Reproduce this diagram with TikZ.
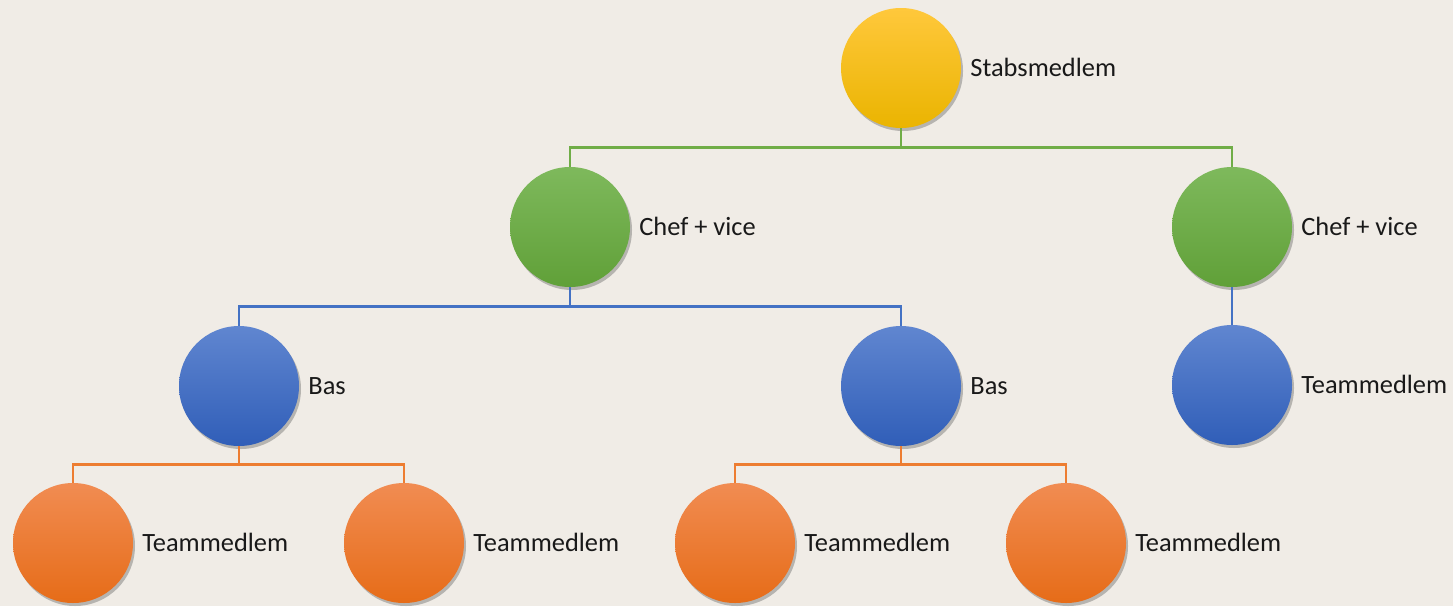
\documentclass[tikz,border=0pt]{standalone}
\usepackage{fontspec}
\setmainfont{Carlito}
\usetikzlibrary{shadows}
\definecolor{bg}{HTML}{F0ECE6}
\definecolor{lnGreen}{HTML}{70AD47}
\definecolor{lnBlue}{HTML}{4472C4}
\definecolor{lnOrange}{HTML}{ED7D31}
\tikzset{
  ball/.style={circle, minimum size=120pt, inner sep=0pt,
    drop shadow={shadow xshift=2pt, shadow yshift=-3pt, opacity=0.35, fill=black!70}},
  yball/.style={ball, top color={rgb,255:red,255;green,200;blue,60}, middle color={rgb,255:red,255;green,196;blue,0}, bottom color={rgb,255:red,234;green,180;blue,0}},
  gball/.style={ball, top color={rgb,255:red,126;green,185;blue,92}, middle color={rgb,255:red,110;green,175;blue,70}, bottom color={rgb,255:red,96;green,160;blue,56}},
  bball/.style={ball, top color={rgb,255:red,96;green,134;blue,208}, middle color={rgb,255:red,70;green,114;blue,198}, bottom color={rgb,255:red,48;green,94;blue,184}},
  oball/.style={ball, top color={rgb,255:red,241;green,140;blue,82}, middle color={rgb,255:red,243;green,127;blue,46}, bottom color={rgb,255:red,230;green,108;blue,24}},
  lbl/.style={anchor=base west, inner sep=0pt, font=\fontsize{26.4}{30}\selectfont, text=black!90},
  conn/.style={line width=2.6pt}
}
\begin{document}
\begin{tikzpicture}[x=1pt,y=-1pt]
\fill[bg] (0,0) rectangle (1453,606);
\useasboundingbox (0,0) rectangle (1453,606);
% nodes
\node[yball] (stab) at (901,68) {};
\node[gball] (c1) at (570,227) {};
\node[gball] (c2) at (1232,227) {};
\node[bball] (b1) at (239,386) {};
\node[bball] (b2) at (901,386) {};
\node[bball] (t0) at (1232,385) {};
\node[oball] (o1) at (73,543) {};
\node[oball] (o2) at (404,543) {};
\node[oball] (o3) at (735,543) {};
\node[oball] (o4) at (1066,543) {};
% connectors
\draw[conn, lnGreen] (stab.south) -- ++(0,19) -| (c1.north);
\draw[conn, lnGreen] (stab.south) -- ++(0,19) -| (c2.north);
\draw[conn, lnBlue] (c1.south) -- ++(0,19) -| (b1.north);
\draw[conn, lnBlue] (c1.south) -- ++(0,19) -| (b2.north);
\draw[conn, lnBlue] (c2.south) -- (t0.north);
\draw[conn, lnOrange] (b1.south) -- ++(0,18) -| (o1.north);
\draw[conn, lnOrange] (b1.south) -- ++(0,18) -| (o2.north);
\draw[conn, lnOrange] (b2.south) -- ++(0,18) -| (o3.north);
\draw[conn, lnOrange] (b2.south) -- ++(0,18) -| (o4.north);
% labels
\node[lbl] (ls) at ([xshift=9pt,yshift=-8.5pt]stab.center -| stab.east) {Stabsmedlem};
\node[lbl] (lc1) at ([xshift=9pt,yshift=-8.5pt]c1.center -| c1.east) {Chef + vice};
\node[lbl] (lc2) at ([xshift=9pt,yshift=-8.5pt]c2.center -| c2.east) {Chef + vice};
\node[lbl] (lb1) at ([xshift=9pt,yshift=-8.5pt]b1.center -| b1.east) {Bas};
\node[lbl] (lb2) at ([xshift=9pt,yshift=-8.5pt]b2.center -| b2.east) {Bas};
\node[lbl] (lt0) at ([xshift=9pt,yshift=-8.5pt]t0.center -| t0.east) {Teammedlem};
\node[lbl] (lo1) at ([xshift=9pt,yshift=-8.5pt]o1.center -| o1.east) {Teammedlem};
\node[lbl] (lo2) at ([xshift=9pt,yshift=-8.5pt]o2.center -| o2.east) {Teammedlem};
\node[lbl] (lo3) at ([xshift=9pt,yshift=-8.5pt]o3.center -| o3.east) {Teammedlem};
\node[lbl] (lo4) at ([xshift=9pt,yshift=-8.5pt]o4.center -| o4.east) {Teammedlem};
\end{tikzpicture}
\end{document}
